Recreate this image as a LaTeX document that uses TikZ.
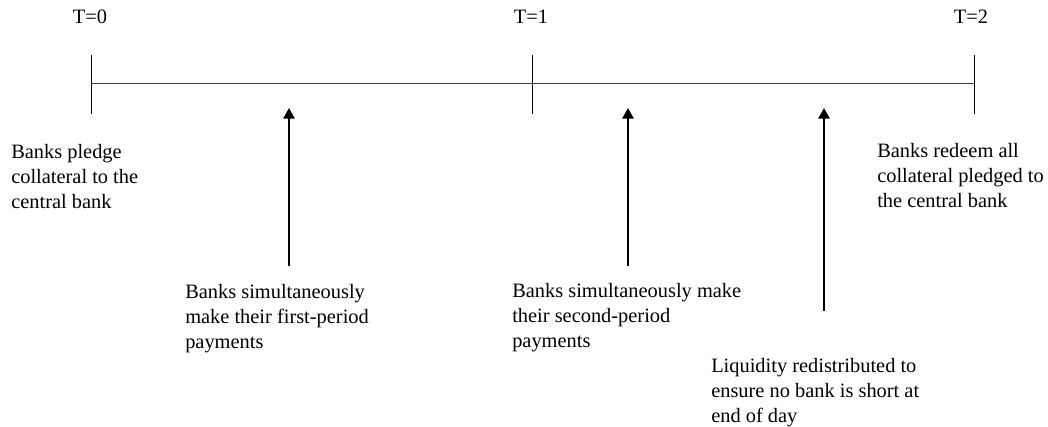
\documentclass[tikz,border=0pt]{standalone}
\usepackage{fontspec}
\setmainfont{Liberation Serif}
\usetikzlibrary{arrows.meta,positioning}
\definecolor{axisgray}{RGB}{60,60,60}

\begin{document}
\begin{tikzpicture}[x=0.75pt,y=-0.75pt,
  every node/.style={font=\fontsize{15.3}{18.6}\selectfont, inner sep=0pt},
  event/.style={align=left, anchor=north west},
  tick/.style={line width=0.75pt, black},
  push/.style={-{Triangle[length=8pt,width=8.5pt]}, line width=1.5pt}]
\useasboundingbox (0,0) rectangle (1048,427);
% time axis
\coordinate (a0) at (91,84);
\coordinate (a2) at (974,84);
\draw[line width=0.75pt, axisgray] (a0) -- (a2);
\draw[tick] (91,55) coordinate (k0) -- (91,114);
\draw[tick] (532,55) coordinate (k1) -- (532,114);
\draw[tick] (974,55) coordinate (k2) -- (974,114);
\node[anchor=base] (t0) at (90,24) {T=0};
\node[anchor=base] (t1) at (531,24) {T=1};
\node[anchor=base] (t2) at (971,24) {T=2};
% events
\node[event] (e0) at (11,144) {Banks pledge\\collateral to the\\central bank};
\node[event] (e1) at (185,284) {Banks simultaneously\\make their first-period\\payments};
\node[event] (e2) at (512,283) {Banks simultaneously make\\their second-period\\payments};
\node[event] (e3) at (711,358) {Liquidity redistributed to\\ensure no bank is short at\\end of day};
\node[event] (e4) at (877,143) {Banks redeem all\\collateral pledged to\\the central bank};
% arrows
\coordinate (p1) at (289,266);
\coordinate (p2) at (628,266);
\coordinate (p3) at (824,311);
\draw[push] (p1) -- (289,108);
\draw[push] (p2) -- (628,108);
\draw[push] (p3) -- (824,108);
\end{tikzpicture}
\end{document}
